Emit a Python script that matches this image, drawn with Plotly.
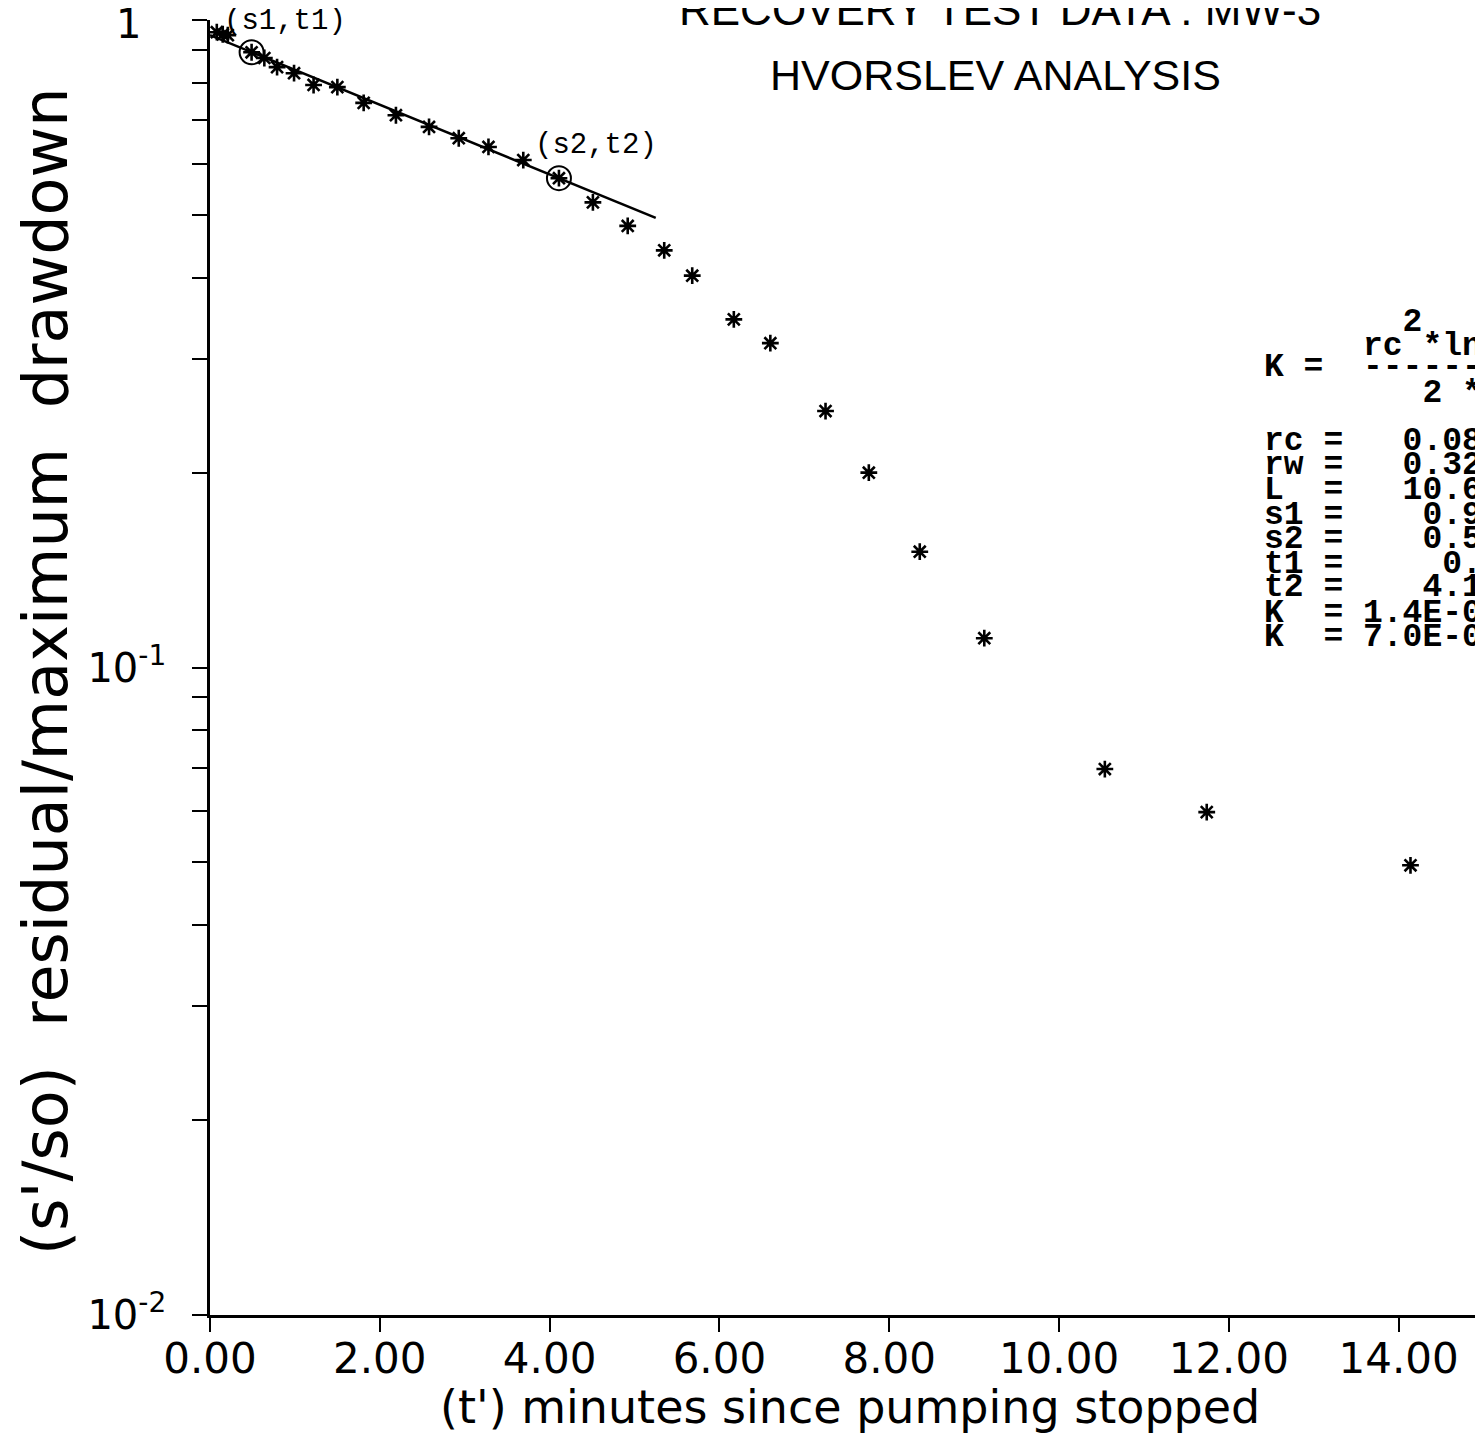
import plotly.graph_objects as go

# ---------------- data ----------------
t_obs = [0.08, 0.15, 0.21, 0.49, 0.64, 0.79, 0.99, 1.22, 1.50, 1.81, 2.19, 2.58,
         2.93, 3.28, 3.69, 4.11, 4.51, 4.92, 5.35, 5.68, 6.17, 6.60, 7.25, 7.76,
         8.36, 9.12, 10.54, 11.74, 14.14]
s_obs = [0.958, 0.951, 0.948, 0.892, 0.874, 0.846, 0.828, 0.794, 0.788, 0.745,
         0.713, 0.684, 0.657, 0.637, 0.608, 0.570, 0.523, 0.481, 0.441, 0.403,
         0.345, 0.317, 0.249, 0.200, 0.151, 0.111, 0.0697, 0.0598, 0.0495]

fit_t = [0.0, 5.25]
fit_s = [0.948, 0.495]

pick_t = [0.49, 4.11]
pick_s = [0.892, 0.570]
pick_labels = ["(s1,t1)", "(s2,t2)"]

x_tick_vals = [0, 2, 4, 6, 8, 10, 12, 14]
x_tick_text = ["0.00", "2.00", "4.00", "6.00", "8.00", "10.00", "12.00", "14.00"]

y_major_vals = [0.01, 0.1, 1.0]
y_major_text = ["10<sup>-2</sup>", "10<sup>-1</sup>", "1"]

info_lines = [
    "       2",
    "     rc *ln",
    "K =  ------",
    "        2 *",
    "rc =   0.08",
    "rw =   0.32",
    "L  =   10.6",
    "s1 =    0.9",
    "s2 =    0.5",
    "t1 =     0.",
    "t2 =    4.1",
    "K  = 1.4E-0",
    "K  = 7.0E-0",
]

title1 = "RECOVERY TEST DATA : MW-3"
title2 = "HVORSLEV ANALYSIS"
x_title = "(t') minutes since pumping stopped"
y_title = "(s'/so)  residual/maximum  drawdown"

# ---------------- layout geometry ----------------
# the page is offset by ~7px; figure coords = page coords - OFF
OFF = 8
PAGE_W, PAGE_H = 1483, 1435
W, H = PAGE_W - OFF, PAGE_H - OFF
PLOT_L, PLOT_R, PLOT_T, PLOT_B = 210, 1483, 20, 1315   # page pixels
L = PLOT_L - OFF
R = W - (PLOT_R - OFF)
T = PLOT_T - OFF
B = H - (PLOT_B - OFF)
PW, PH = W - L - R, H - T - B


def px(xp):
    return (xp - PLOT_L) / PW


def py(yp):
    return (PLOT_B - yp) / PH


# y tick values: minor ticks 2..9 per decade, labels on 0.01 and 0.1
y_tick_vals, y_tick_text = [], []
for dec in [0.01, 0.1]:
    for m in range(1, 10):
        v = round(m * dec, 4)
        y_tick_vals.append(v)
        y_tick_text.append(y_major_text[y_major_vals.index(dec)] if m == 1 else " ")
y_tick_vals.append(1.0)
y_tick_text.append(" ")

fig = go.Figure()

fig.add_trace(go.Scatter(
    x=fit_t, y=fit_s, mode="lines",
    line=dict(color="black", width=2.5), showlegend=False, hoverinfo="skip"))

fig.add_trace(go.Scatter(
    x=t_obs, y=s_obs, mode="markers",
    marker=dict(symbol="asterisk-open", size=14, color="black",
                line=dict(color="black", width=2.6)),
    showlegend=False, cliponaxis=False))

fig.add_trace(go.Scatter(
    x=pick_t, y=pick_s, mode="markers",
    marker=dict(symbol="circle-open", size=24, color="black",
                line=dict(color="black", width=2)),
    showlegend=False, cliponaxis=False))

annotations = []
# label for the top decade (1) of the log axis
annotations.append(dict(
    text=y_major_text[2], x=px(143), y=py(24), xref="paper", yref="paper",
    xanchor="right", yanchor="middle", showarrow=False,
    font=dict(family="DejaVu Sans", size=40, color="black")))

# pick point labels
label_pos = [(222, 22), (533, 145)]
for lab, (xp, yp) in zip(pick_labels, label_pos):
    annotations.append(dict(
        text=lab, x=px(xp), y=py(yp), xref="paper", yref="paper",
        xanchor="left", yanchor="middle", showarrow=False,
        font=dict(family="Liberation Mono", size=29, color="black")))

# titles
annotations.append(dict(
    text=title1, x=px(1000), y=py(36), xref="paper", yref="paper",
    xanchor="center", yanchor="bottom", showarrow=False,
    font=dict(family="Liberation Sans", size=44, color="black")))
annotations.append(dict(
    text=title2, x=px(996), y=py(75), xref="paper", yref="paper",
    xanchor="center", yanchor="middle", showarrow=False,
    font=dict(family="Liberation Sans", size=43, color="black")))

# axis titles
annotations.append(dict(
    text=x_title, x=px(850), y=py(1407), xref="paper", yref="paper",
    xanchor="center", yanchor="middle", showarrow=False,
    font=dict(family="DejaVu Sans", size=46, color="black")))
annotations.append(dict(
    text=y_title, x=px(45), y=py(672), xref="paper", yref="paper",
    xanchor="center", yanchor="middle", showarrow=False, textangle=-90,
    font=dict(family="DejaVu Sans", size=62, color="black")))

# info block
line_y = [322, 346, 368, 393, 441, 466, 490, 515, 539, 564, 588, 613, 637]
for txt, yp in zip(info_lines, line_y):
    annotations.append(dict(
        text="<b>" + txt.replace(" ", "&nbsp;") + "</b>", x=px(1262), y=py(yp),
        xref="paper", yref="paper", xanchor="left", yanchor="middle",
        showarrow=False,
        font=dict(family="Liberation Mono", size=33, color="black")))

fig.update_layout(
    width=W, height=H,
    margin=dict(l=L, r=R, t=T, b=B, pad=0),
    paper_bgcolor="white", plot_bgcolor="white",
    annotations=annotations,
    xaxis=dict(
        range=[0, PW / 84.9], showgrid=False, zeroline=False,
        showline=True, linecolor="black", linewidth=3,
        tickmode="array", tickvals=x_tick_vals, ticktext=x_tick_text,
        ticks="outside", ticklen=14, tickwidth=2, tickcolor="black",
        ticklabelstandoff=-9,
        tickfont=dict(family="DejaVu Sans", size=42, color="black")),
    yaxis=dict(
        type="log", range=[-2, 0.0002], showgrid=False, zeroline=False,
        showline=True, linecolor="black", linewidth=2.5,
        tickmode="array", tickvals=y_tick_vals, ticktext=y_tick_text,
        ticks="outside", ticklen=15, tickwidth=2, tickcolor="black",
        ticklabelstandoff=18,
        tickfont=dict(family="DejaVu Sans", size=40, color="black")),
)

fig.write_html("out.html")
